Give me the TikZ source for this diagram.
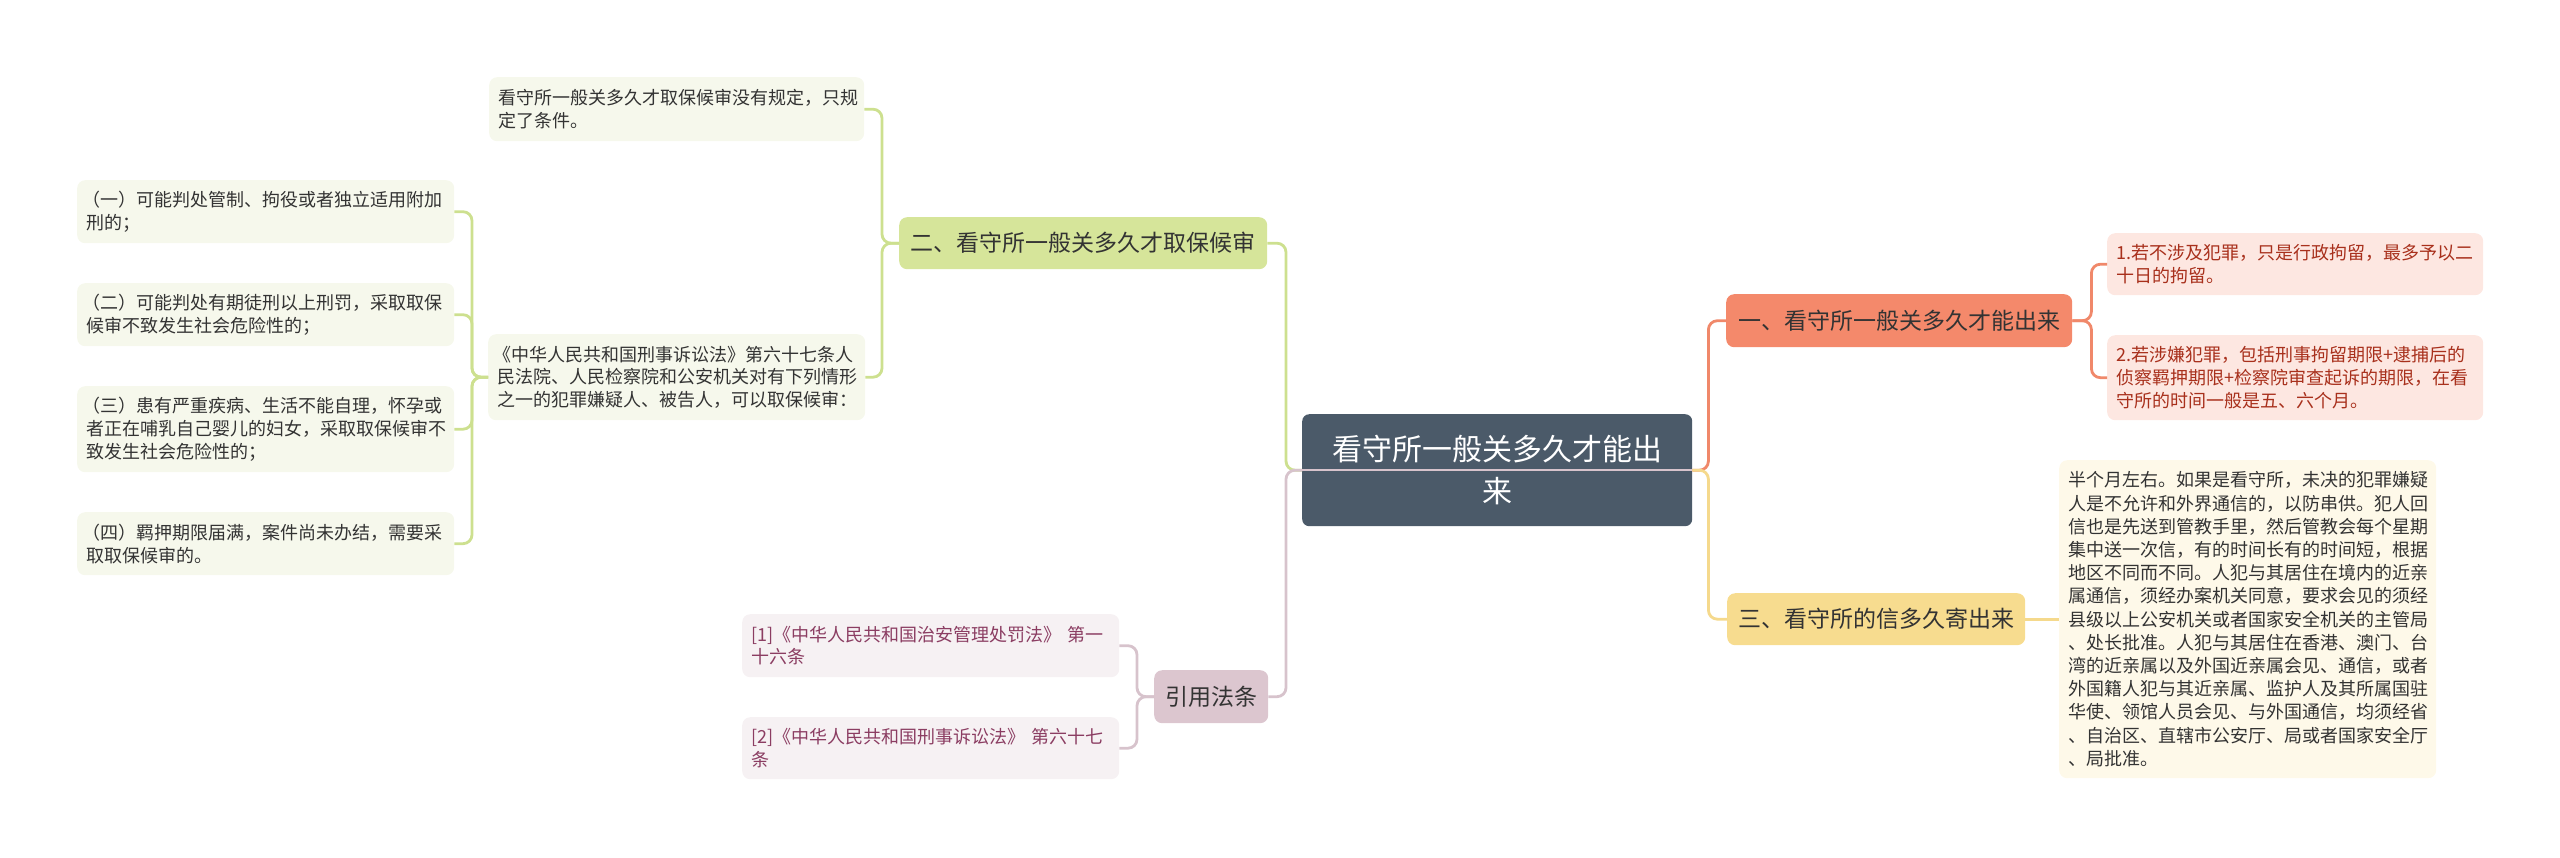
\documentclass[tikz,border=0pt]{standalone}
\usepackage{fontspec}
\newfontfamily\cjk{Noto Sans CJK SC}
\usetikzlibrary{calc}
\definecolor{txt}{HTML}{333333}
\definecolor{centerfill}{HTML}{4B5A69}
\definecolor{orangefill}{HTML}{F4896B}
\definecolor{orangeline}{HTML}{F0886A}
\definecolor{orangeleaf}{HTML}{FDE7E1}
\definecolor{orangetxt}{HTML}{A8301C}
\definecolor{greenfill}{HTML}{D6E59A}
\definecolor{greenline}{HTML}{CDE08F}
\definecolor{greenleaf}{HTML}{F6F8EC}
\definecolor{yellowfill}{HTML}{F7DC8F}
\definecolor{yellowline}{HTML}{F5D98C}
\definecolor{yellowleaf}{HTML}{FEF9E9}
\definecolor{mauvefill}{HTML}{DCC6CF}
\definecolor{mauveline}{HTML}{D7C3CC}
\definecolor{mauveleaf}{HTML}{F6F1F3}
\definecolor{mauvetxt}{HTML}{8B3D62}
\tikzset{
  leafbox/.style={rounded corners=8pt, inner xsep=9pt, inner ysep=0pt, anchor=north west,
    align=left, text=txt, font=\cjk\fontsize{18}{22.7}\selectfont},
  branchbox/.style={rounded corners=8pt, inner xsep=6pt, inner ysep=0pt, anchor=north west,
    align=center, text=txt, font=\cjk\fontsize{23}{28}\selectfont},
  conn/.style={line width=2.8pt, rounded corners=9pt},
}
\begin{document}
\begin{tikzpicture}[x=1pt,y=-1pt]
\useasboundingbox (0,0) rectangle (2560,857);

% center
\node[rounded corners=7pt, fill=centerfill, text=white, anchor=north west, align=center,
  minimum width=390pt, minimum height=112pt, inner sep=0pt,
  font=\cjk\fontsize{30}{42}\selectfont] (C) at (1302,414) {看守所一般关多久才能出\\来};

% branch nodes
\node[branchbox, fill=greenfill, minimum width=368pt, minimum height=52pt] (B2) at (899,217) {二、看守所一般关多久才取保候审};
\node[branchbox, fill=mauvefill, minimum width=114pt, minimum height=53pt] (BR) at (1154,670) {引用法条};
\node[branchbox, fill=orangefill, minimum width=346pt, minimum height=53pt] (B1) at (1726,294) {一、看守所一般关多久才能出来};
\node[branchbox, fill=yellowfill, minimum width=298pt, minimum height=52pt] (B3) at (1727,593) {三、看守所的信多久寄出来};

% green leaves
\node[leafbox, fill=greenleaf, minimum width=375pt, minimum height=64pt, text width=357pt] (GA) at (489,77) {看守所一般关多久才取保候审没有规定，只规\\定了条件。};
\node[leafbox, fill=greenleaf, minimum width=377pt, minimum height=86pt, text width=359pt] (GB) at (488,334) {\kern-0.2em《中华人民共和国刑事诉讼法》第六十七条人\\民法院、人民检察院和公安机关对有下列情形\\之一的犯罪嫌疑人、被告人，可以取保候审：};
\node[leafbox, fill=greenleaf, minimum width=377pt, minimum height=63pt, text width=359pt] (G1) at (77,180) {\kern-0.2em（一）可能判处管制、拘役或者独立适用附加\\刑的；};
\node[leafbox, fill=greenleaf, minimum width=377pt, minimum height=63pt, text width=359pt] (G2) at (77,283) {\kern-0.2em（二）可能判处有期徒刑以上刑罚，采取取保\\候审不致发生社会危险性的；};
\node[leafbox, fill=greenleaf, minimum width=377pt, minimum height=86pt, text width=359pt] (G3) at (77,386) {\kern-0.2em（三）患有严重疾病、生活不能自理，怀孕或\\者正在哺乳自己婴儿的妇女，采取取保候审不\\致发生社会危险性的；};
\node[leafbox, fill=greenleaf, minimum width=377pt, minimum height=63pt, text width=359pt] (G4) at (77,512) {\kern-0.2em（四）羁押期限届满，案件尚未办结，需要采\\取取保候审的。};

% mauve leaves
\node[leafbox, fill=mauveleaf, text=mauvetxt, minimum width=377pt, minimum height=63pt, text width=359pt] (R1) at (742,614) {[1]《中华人民共和国治安管理处罚法》~第一\\十六条};
\node[leafbox, fill=mauveleaf, text=mauvetxt, minimum width=377pt, minimum height=62pt, text width=359pt] (R2) at (742,717) {[2]《中华人民共和国刑事诉讼法》~第六十七\\条};

% orange leaves
\node[leafbox, fill=orangeleaf, text=orangetxt, minimum width=376pt, minimum height=62pt, text width=358pt] (O1) at (2107,233) {1.若不涉及犯罪，只是行政拘留，最多予以二\\十日的拘留。};
\node[leafbox, fill=orangeleaf, text=orangetxt, minimum width=376pt, minimum height=85pt, text width=358pt] (O2) at (2107,335) {2.若涉嫌犯罪，包括刑事拘留期限+逮捕后的\\侦察羁押期限+检察院审查起诉的期限，在看\\守所的时间一般是五、六个月。};

% yellow leaf
\node[leafbox, fill=yellowleaf, minimum width=377pt, minimum height=318pt, text width=359pt,
  font=\cjk\fontsize{18}{23.2}\selectfont] (Y1) at (2059,460) {半个月左右。如果是看守所，未决的犯罪嫌疑\\人是不允许和外界通信的，以防串供。犯人回\\信也是先送到管教手里，然后管教会每个星期\\集中送一次信，有的时间长有的时间短，根据\\地区不同而不同。人犯与其居住在境内的近亲\\属通信，须经办案机关同意，要求会见的须经\\县级以上公安机关或者国家安全机关的主管局\\、处长批准。人犯与其居住在香港、澳门、台\\湾的近亲属以及外国近亲属会见、通信，或者\\外国籍人犯与其近亲属、监护人及其所属国驻\\华使、领馆人员会见、与外国通信，均须经省\\、自治区、直辖市公安厅、局或者国家安全厅\\、局批准。};

% connectors: center
\draw[conn, greenline] (C.west) -- ([xshift=-16pt]C.west) |- (B2.east);
\draw[conn, mauveline] (C.west) -- ([xshift=-16pt]C.west) |- (BR.east);
\draw[conn, orangeline] (C.east) -- ([xshift=16pt]C.east) |- (B1.west);
\draw[conn, yellowline] (C.east) -- ([xshift=16pt]C.east) |- (B3.west);
\draw[line width=2pt, mauveline] (C.west) -- (C.east);

% green subtree
\draw[conn, greenline] (B2.west) -- ([xshift=-17pt]B2.west) |- (GA.east);
\draw[conn, greenline] (B2.west) -- ([xshift=-17pt]B2.west) |- (GB.east);
\draw[conn, greenline] (GB.west) -- ([xshift=-16pt]GB.west) |- (G1.east);
\draw[conn, greenline] (GB.west) -- ([xshift=-16pt]GB.west) |- (G2.east);
\draw[conn, greenline] (GB.west) -- ([xshift=-16pt]GB.west) |- (G3.east);
\draw[conn, greenline] (GB.west) -- ([xshift=-16pt]GB.west) |- (G4.east);

% mauve subtree
\draw[conn, mauveline] (BR.west) -- ([xshift=-17pt]BR.west) |- (R1.east);
\draw[conn, mauveline] (BR.west) -- ([xshift=-17pt]BR.west) |- (R2.east);

% orange subtree
\draw[conn, orangeline] (B1.east) -- ([xshift=19pt]B1.east) |- (O1.west);
\draw[conn, orangeline] (B1.east) -- ([xshift=19pt]B1.east) |- (O2.west);

% yellow subtree
\draw[conn, yellowline] (B3.east) -- (Y1.west);
\end{tikzpicture}
\end{document}
